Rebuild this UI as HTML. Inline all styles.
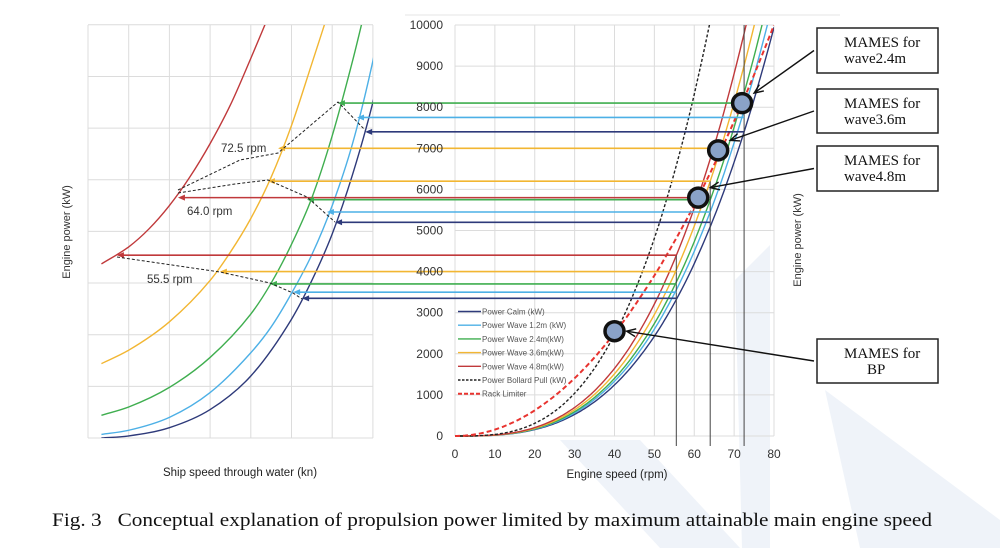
<!DOCTYPE html>
<html><head><meta charset="utf-8"><style>
html,body{margin:0;padding:0;background:#fff;}
svg{display:block;}
text{font-family:"Liberation Sans",sans-serif;}
text.serif{font-family:"Liberation Serif",serif;}
</style></head><body>
<svg id="fig" width="1000" height="548" viewBox="0 0 1000 548" xmlns="http://www.w3.org/2000/svg">
<defs>
<clipPath id="clipR"><rect x="455" y="25" width="319" height="412"/></clipPath>
<clipPath id="clipL"><rect x="88" y="25" width="285" height="413"/></clipPath>
</defs>
<g fill="#eff3f9">
<polygon points="560,440 640,440 740,548 660,548"/>
<polygon points="735,280 770,245 770,548 742,548"/>
<polygon points="825,390 1000,520 1000,548 860,548"/>
</g>
<line x1="405" y1="15" x2="840" y2="15" stroke="#e4e4e4"/>
<g id="gridL"></g>
<g id="gridR"></g>
<g id="curvesL" clip-path="url(#clipL)"></g>
<g id="curvesR" clip-path="url(#clipR)"></g>
<g id="hlines"></g>
<g id="annot" fill="none" stroke="#222" stroke-width="1" stroke-dasharray="3,2">
<polyline points="117,257 220,272 270,283 293,293 302,299"/>
<polyline points="178,193 235,184 268,180 307,197 335,222"/>
<polyline points="178,190 240,160 278,153 338,102 365,130"/>
</g>
<g font-size="11.5" fill="#333">
<text x="221" y="152">72.5 rpm</text>
<text x="187" y="215">64.0 rpm</text>
<text x="147" y="283">55.5 rpm</text>
</g>
<g id="ticks" font-size="12" fill="#333"></g>
<text transform="translate(70,232) rotate(-90)" text-anchor="middle" font-size="11" fill="#333">Engine power (kW)</text>
<text transform="translate(801,240) rotate(-90)" text-anchor="middle" font-size="11" fill="#333">Engine power (kW)</text>
<text x="240" y="476" text-anchor="middle" font-size="11.5" fill="#222">Ship speed through water (kn)</text>
<text x="617" y="478" text-anchor="middle" font-size="11.5" fill="#222">Engine speed (rpm)</text>
<g id="legend" font-size="8" fill="#555"></g>
<g id="circles"></g>
<g id="callouts" font-size="15"></g>
<text class="serif" x="52" y="526" font-size="18.5" fill="#111" textLength="880" lengthAdjust="spacingAndGlyphs">Fig. 3&#160;&#160;&#160;Conceptual explanation of propulsion power limited by maximum attainable main engine speed</text>
</svg>
<script>
const seriesNames=["Power Calm (kW)","Power Wave 1.2m (kW)","Power Wave 2.4m(kW)","Power Wave 3.6m(kW)","Power Wave 4.8m(kW)","Power Bollard Pull (kW)","Rack Limiter"];
const seriesColors=["#2e3a7a","#4db0e6","#3fae4f","#f2b632","#c0393b","#222","#e8332f"];
const cubicK=[0.01942,0.0208,0.0219,0.02365,0.0257,0.0385];
const rackMax=10000;
const yTicks=[0,1000,2000,3000,4000,5000,6000,7000,8000,9000,10000];
const xTicks=[0,10,20,30,40,50,60,70,80];
// left panel curves (speed units, power grid units)
const leftCalm=[[0.33,0],[1,0.04],[2,0.2],[3,0.55],[4,1.2],[5,2.3],[5.5,3.05],[6,3.95],[6.5,5.1],[7,6.5],[7.2,7.2]];
const leftW12=[[0.33,0.07],[1,0.15],[2,0.4],[3,0.88],[4,1.65],[4.5,2.15],[5,2.8],[5.5,3.55],[6,4.5],[6.5,5.7],[7,7.3],[7.2,8.1]];
const leftW24=[[0.33,0.44],[1,0.6],[2,0.98],[3,1.56],[4,2.4],[4.5,3.0],[5,3.75],[5.5,4.65],[6,5.85],[6.5,7.3],[6.75,8.1]];
const leftW36=[[0.33,1.44],[1,1.7],[2,2.25],[3,3.05],[3.5,3.6],[4,4.25],[4.5,5.05],[5,6.05],[5.5,7.25],[5.85,8.1]];
const leftW48=[[0.33,3.37],[1,3.7],[1.5,4.05],[2,4.5],[2.5,5.05],[3,5.7],[3.5,6.45],[4,7.35],[4.4,8.1]];
// transfer lines: color index, power, left speed end, right rpm end
const tColor=[4,3,2,1,0,4,3,2,1,0,3,2,1,0];
const tPower=[4400,4000,3700,3500,3350,5800,6200,5750,5450,5200,7000,8100,7750,7400];
const tLeft=[0.71,3.24,4.47,5.04,5.26,2.21,4.42,5.38,5.87,6.07,4.67,6.14,6.61,6.81];
const tRight=[55.5,55.5,55.5,55.5,55.5,61,64,64,64,64,66,71.5,72.5,72.5];
const vRpm=[55.5,64,72.5];
const vTop=[4400,6200,10000];
const mRpm=[40,61,66,72];
const mPow=[2550,5800,6950,8100];
const calloutText=[["MAMES for","BP"],["MAMES for","wave4.8m"],["MAMES for","wave3.6m"],["MAMES for","wave2.4m"]];

const NS="http://www.w3.org/2000/svg";
const xR=r=>455+r*3.9875, yR=p=>436-p*0.0411;
const xL=u=>88+u*40.7, yL=v=>438-v*51.65;
function mk(tag,attrs,parent){const e=document.createElementNS(NS,tag);for(const k in attrs)e.setAttribute(k,attrs[k]);parent.appendChild(e);return e;}
function $(id){return document.getElementById(id);}
for(let i=0;i<=7;i++){const l=mk('line',{x1:xL(i),x2:xL(i),y1:25,y2:438,stroke:'#dcdcdc'},$('gridL'));

}
for(let i=0;i<=8;i++){const l=mk('line',{x1:88,x2:373,y1:yL(i),y2:yL(i),stroke:'#dcdcdc'},$('gridL'));

}
xTicks.forEach(t=>{const l=mk('line',{x1:xR(t),x2:xR(t),y1:25,y2:436,stroke:'#dcdcdc'},$('gridR'));


const tx=mk('text',{x:xR(t),y:458,'text-anchor':'middle'},$('ticks'));tx.textContent=t;

});
yTicks.forEach(t=>{const l=mk('line',{x1:455,x2:774,y1:yR(t),y2:yR(t),stroke:'#dcdcdc'},$('gridR'));


const tx=mk('text',{x:443,y:yR(t)+4,'text-anchor':'end'},$('ticks'));tx.textContent=t;

});
function rcurve(f,color,dash,w,name){let d='';for(let r=0;r<=80;r+=0.5){d+=(r?'L':'M')+xR(r).toFixed(1)+','+yR(Math.min(f(r),10500)).toFixed(1);}
const p=mk('path',{d,fill:'none',stroke:color,'stroke-width':w},$('curvesR'));if(dash)p.setAttribute('stroke-dasharray',dash);

}
cubicK.forEach((k,i)=>rcurve(r=>k*r*r*r,seriesColors[i],i==5?'3,2':null,1.4,'right-curve-'+i));
rcurve(r=>rackMax*(r/80)*(r/80),seriesColors[6],'5,3',2,'rack-limiter');
// monotone cubic interpolation
function monotone(pts){const n=pts.length,x=pts.map(p=>p[0]),y=pts.map(p=>p[1]);const d=[],m=[];
for(let i=0;i<n-1;i++)d.push((y[i+1]-y[i])/(x[i+1]-x[i]));
m[0]=d[0];m[n-1]=d[n-2];for(let i=1;i<n-1;i++)m[i]=(d[i-1]*d[i]<=0)?0:(d[i-1]+d[i])/2;
let s='M'+x[0]+','+y[0];for(let i=0;i<n-1;i++){const h=(x[i+1]-x[i])/3;
s+=`C${x[i]+h},${y[i]+m[i]*h} ${x[i+1]-h},${y[i+1]-m[i+1]*h} ${x[i+1]},${y[i+1]}`;}return s;}
[leftCalm,leftW12,leftW24,leftW36,leftW48].forEach((s,i)=>{const p=mk('path',{d:monotone(s.map(q=>[xL(q[0]),yL(q[1])])),fill:'none',stroke:seriesColors[i],'stroke-width':1.4},$('curvesL'));

});
vRpm.forEach((r,i)=>{const l=mk('line',{x1:xR(r),x2:xR(r),y1:yR(vTop[i]),y2:446,stroke:'#444','stroke-width':1},$('hlines'));

});
tPower.forEach((p,i)=>{const y=yR(p),c=seriesColors[tColor[i]],x1=xL(tLeft[i]);
const l=mk('line',{x1:x1+2,x2:xR(tRight[i]),y1:y,y2:y,stroke:c,'stroke-width':1.6},$('hlines'));


const a=mk('polygon',{points:`${x1},${y} ${x1+7},${y-3} ${x1+7},${y+3}`,fill:c},$('hlines'));

});
seriesNames.forEach((n,i)=>{const y=311.5+i*13.7;const l=mk('line',{x1:458,x2:481,y1:y,y2:y,stroke:seriesColors[i],'stroke-width':i==6?2:1.4},$('legend'));
if(i>=5)l.setAttribute('stroke-dasharray',i==6?'4,2':'2.5,1.5');


const t=mk('text',{x:482,y:y+3},$('legend'));t.textContent=n;

});
const boxY=[339,146,89,28],boxH=[44,45,44,45];
mRpm.forEach((r,i)=>{const cx=xR(r),cy=yR(mPow[i]);
const c=mk('circle',{cx,cy,r:9.5,fill:'#8aa2c8',stroke:'#111','stroke-width':3.5},$('circles'));


const by=boxY[i],bx=817,bh=boxH[i];
const tipx=cx+12,tipy=cy-(i==0?0:10);
const ln=mk('line',{x1:bx-3,y1:by+bh/2,x2:tipx,y2:tipy,stroke:'#111','stroke-width':1.4},$('callouts'));


const ang=Math.atan2(by+bh/2-tipy,bx-3-tipx);
const ah=mk('polyline',{points:`${tipx+10*Math.cos(ang-0.4)},${tipy+10*Math.sin(ang-0.4)} ${tipx},${tipy} ${tipx+10*Math.cos(ang+0.4)},${tipy+10*Math.sin(ang+0.4)}`,fill:'none',stroke:'#111','stroke-width':1.4},$('callouts'));


const b=mk('rect',{x:bx,y:by,width:121,height:bh,fill:'#fff',stroke:'#222','stroke-width':1.5},$('callouts'));


calloutText[i].forEach((s,j)=>{const t=mk('text',{x:i==0&&j==1?bx+50:bx+27,y:by+19+j*16,fill:'#111','class':'serif'},$('callouts'));t.textContent=s;

});});
</script>
</body></html>
